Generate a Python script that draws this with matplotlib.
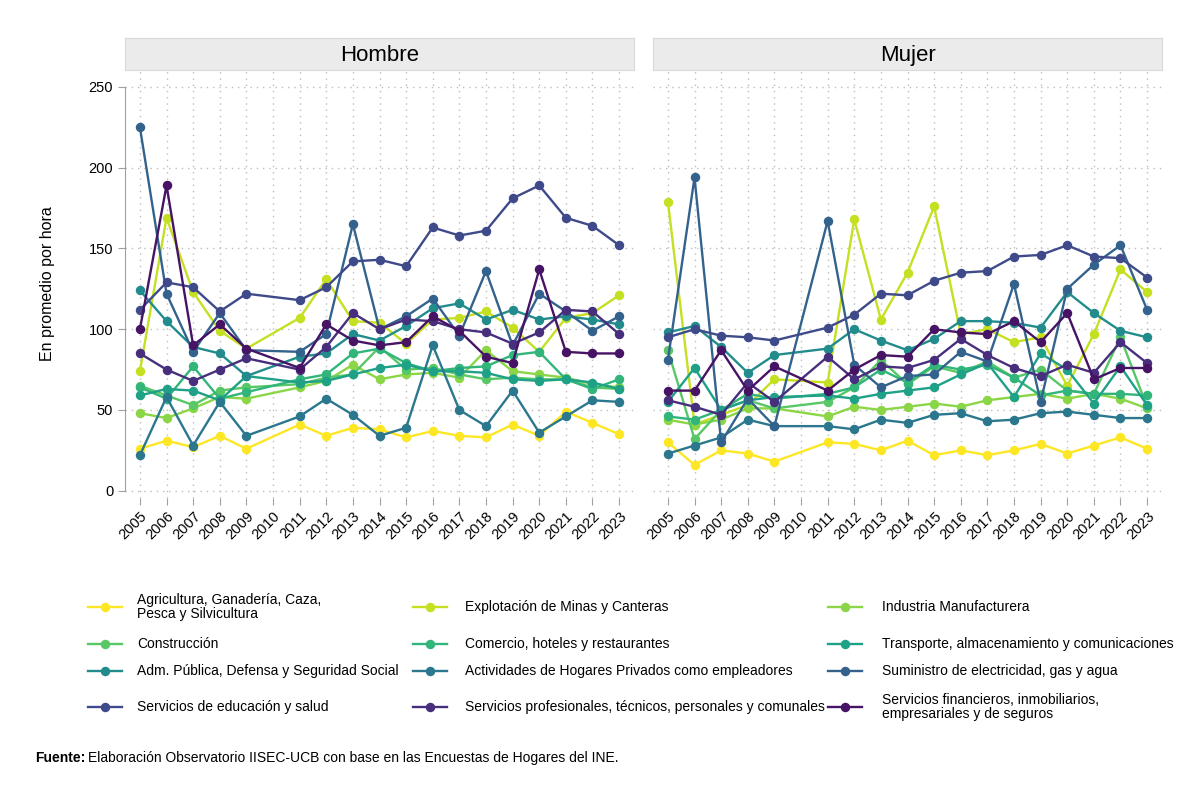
import numpy as np
import matplotlib.pyplot as plt
from matplotlib.lines import Line2D

plt.rcParams['font.family'] = ['Liberation Sans', 'DejaVu Sans']

# 2010 no tiene dato (no hubo encuesta)
years = [2005, 2006, 2007, 2008, 2009, 2011, 2012, 2013, 2014,
         2015, 2016, 2017, 2018, 2019, 2020, 2021, 2022, 2023]
tick_years = list(range(2005, 2024))

sectores = ['Agricultura, Ganadería, Caza,\nPesca y Silvicultura',
            'Explotación de Minas y Canteras',
            'Industria Manufacturera',
            'Construcción',
            'Comercio, hoteles y restaurantes',
            'Transporte, almacenamiento y comunicaciones',
            'Adm. Pública, Defensa y Seguridad Social',
            'Actividades de Hogares Privados como empleadores',
            'Suministro de electricidad, gas y agua',
            'Servicios de educación y salud',
            'Servicios profesionales, técnicos, personales y comunales',
            'Servicios financieros, inmobiliarios,\nempresariales y de seguros']

# Hombre
h_agri = [26, 31, 27, 34, 26, 41, 34, 39, 38, 33, 37, 34, 33, 41, 34, 49, 42, 35]
h_minas = [74, 169, 123, 99, 88, 107, 131, 105, 104, 91, 106, 107, 111, 101, 86, 107, 110, 121]
h_ind = [48, 45, 51, 58, 57, 64, 68, 78, 69, 72, 73, 70, 87, 74, 72, 70, 66, 64]
h_const = [65, 59, 53, 62, 64, 66, 70, 72, 89, 75, 76, 72, 69, 70, 69, 69, 64, 63]
h_com = [64, 57, 77, 57, 61, 69, 72, 85, 88, 79, 74, 76, 77, 84, 86, 69, 63, 69]
h_trans = [59, 63, 62, 56, 71, 67, 68, 72, 76, 78, 74, 74, 73, 69, 68, 69, 67, 63]
h_adm = [124, 105, 89, 85, 71, 83, 85, 97, 93, 102, 113, 116, 106, 112, 106, 108, 106, 103]
h_hog = [22, 58, 28, 55, 34, 46, 57, 47, 34, 39, 90, 50, 40, 62, 36, 46, 56, 55]
h_elec = [225, 122, 86, 110, 87, 86, 97, 165, 100, 108, 119, 96, 136, 90, 122, 111, 99, 108]
h_edu = [112, 129, 126, 111, 122, 118, 126, 142, 143, 139, 163, 158, 161, 181, 189, 169, 164, 152]
h_prof = [85, 75, 68, 75, 82, 75, 89, 110, 100, 106, 105, 100, 98, 91, 98, 112, 111, 97]
h_fin = [100, 189, 90, 103, 88, 76, 103, 93, 90, 92, 108, 99, 83, 79, 137, 86, 85, 85]

# Mujer
m_agri = [30, 16, 25, 23, 18, 30, 29, 25, 31, 22, 25, 22, 25, 29, 23, 28, 33, 26]
m_minas = [179, 41, 47, 53, 69, 67, 168, 106, 135, 176, 97, 100, 92, 95, 65, 97, 137, 123]
m_ind = [44, 41, 44, 51, 51, 46, 52, 50, 52, 54, 52, 56, 58, 60, 57, 60, 57, 51]
m_const = [87, 32, 50, 56, 51, 55, 64, 81, 66, 77, 73, 80, 70, 75, 62, 60, 95, 52]
m_com = [46, 44, 50, 60, 57, 60, 64, 75, 67, 78, 75, 78, 70, 59, 62, 60, 60, 59]
m_trans = [55, 76, 50, 56, 58, 59, 57, 60, 62, 64, 72, 79, 58, 85, 75, 54, 77, 53]
m_adm = [98, 102, 89, 73, 84, 88, 100, 93, 87, 94, 105, 105, 104, 101, 123, 110, 99, 95]
m_hog = [23, 28, 33, 44, 40, 40, 38, 44, 42, 47, 48, 43, 44, 48, 49, 47, 45, 45]
m_elec = [81, 194, 30, 57, 40, 167, 78, 64, 71, 72, 86, 80, 128, 55, 125, 140, 152, 112]
m_edu = [95, 100, 96, 95, 93, 101, 109, 122, 121, 130, 135, 136, 145, 146, 152, 145, 144, 132]
m_prof = [56, 52, 47, 67, 55, 83, 69, 77, 76, 81, 94, 84, 76, 71, 78, 73, 92, 79]
m_fin = [62, 62, 87, 62, 77, 62, 75, 84, 83, 100, 98, 97, 105, 92, 110, 69, 76, 76]

hombre = [h_agri, h_minas, h_ind, h_const, h_com, h_trans,
          h_adm, h_hog, h_elec, h_edu, h_prof, h_fin]
mujer = [m_agri, m_minas, m_ind, m_const, m_com, m_trans,
         m_adm, m_hog, m_elec, m_edu, m_prof, m_fin]

colores = plt.cm.viridis(np.linspace(1, 0.05, 12))

fig = plt.figure(figsize=(12, 8), dpi=100)


def panel(x0, datos, titulo, eje_y):
    ax = fig.add_axes([x0, 1 - 498 / 800, 509 / 1200, 428 / 800])
    for serie, c in zip(datos, colores):
        ax.plot(years, serie, color=c, lw=1.7, marker='o', ms=5.8, zorder=3)
    ax.set_xlim(2004.44, 2023.56)
    ax.set_ylim(-4.5, 260.5)
    ax.set_xticks(tick_years)
    ax.set_xticklabels(tick_years, rotation=45, ha='right', rotation_mode='anchor')
    ax.set_yticks(range(0, 251, 50))
    ax.grid(color='#bdbdbd', linestyle=(0, (1, 3.5)), lw=1)
    for s in ['top', 'right', 'bottom']:
        ax.spines[s].set_visible(False)
    ax.tick_params(axis='x', length=5, color='#a0a0a0', pad=3, labelsize=10.5)
    if eje_y:
        ax.spines['left'].set_color('#a0a0a0')
        ax.spines['left'].set_bounds(0, 250)
        ax.tick_params(axis='y', length=5, color='#a0a0a0', labelsize=10.5)
        ax.set_ylabel('En promedio por hora', fontsize=11.5, labelpad=24)
    else:
        ax.spines['left'].set_visible(False)
        ax.tick_params(axis='y', length=0, labelleft=False)
    # franja con el titulo del panel
    st = fig.add_axes([x0, 1 - 70 / 800, 509 / 1200, 32 / 800])
    st.set_facecolor('#ebebeb')
    for s in st.spines.values():
        s.set_color('#d9d9d9')
    st.set_xticks([])
    st.set_yticks([])
    st.text(0.5, 0.45, titulo, ha='center', va='center', fontsize=16,
            transform=st.transAxes)
    return ax


panel(125 / 1200, hombre, 'Hombre', True)
panel(653 / 1200, mujer, 'Mujer', False)

# leyenda manual, 3 columnas
col_handle = [(88, 122), (413, 447), (828, 862)]
col_text = [137, 465, 882]
row_y = [607, 644, 671, 707]
for i, (lab, c) in enumerate(zip(sectores, colores)):
    r, k = divmod(i, 3)
    y = 1 - row_y[r] / 800
    xa, xb = col_handle[k]
    fig.add_artist(Line2D([xa / 1200, xb / 1200], [y, y], color=c, lw=1.7,
                          transform=fig.transFigure))
    fig.add_artist(Line2D([(xa + xb) / 2400], [y], color=c, marker='o', ms=5.8,
                          transform=fig.transFigure))
    fig.text(col_text[k] / 1200, y, lab, fontsize=10, va='center', ha='left',
             linespacing=0.95)

fig.text(35 / 1200, 1 - 758 / 800, 'Fuente:', fontsize=10, va='center',
         weight='bold')
fig.text(88 / 1200, 1 - 758 / 800,
         'Elaboración Observatorio IISEC-UCB con base en las Encuestas de Hogares del INE.',
         fontsize=10, va='center')

fig.savefig('out.png', dpi=100, facecolor='white')
